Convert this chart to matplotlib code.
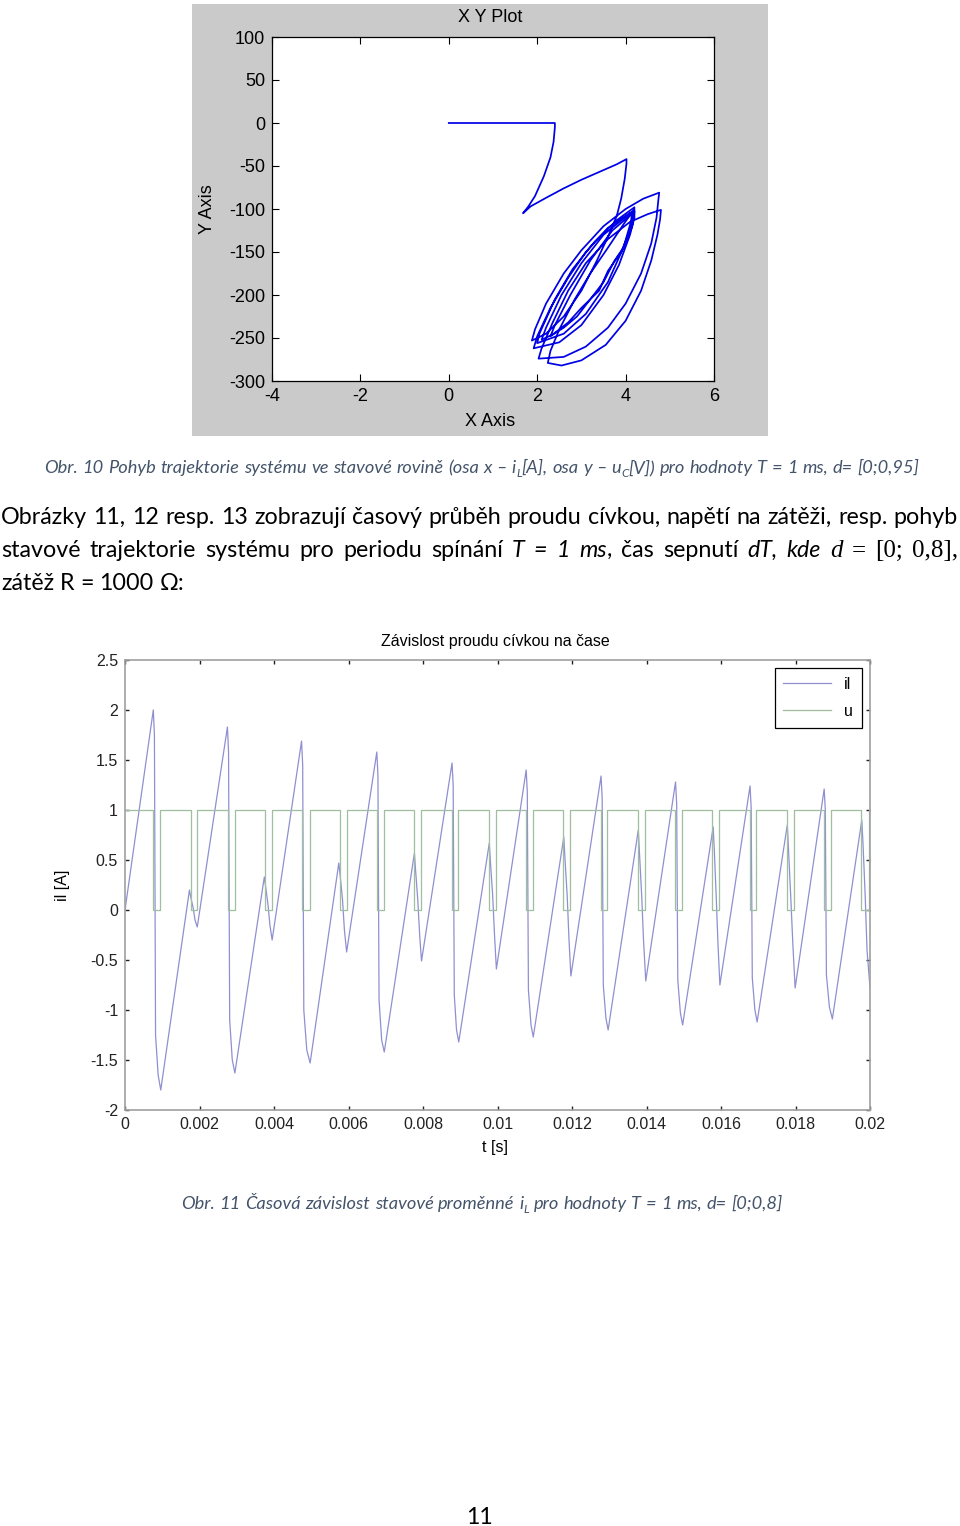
import matplotlib
matplotlib.use('Agg')
import matplotlib.pyplot as plt
from matplotlib.patches import Rectangle

plt.rcParams['font.family'] = ['Liberation Sans', 'DejaVu Sans']
plt.rcParams['axes.unicode_minus'] = False

# ---------------- data: Fig. 10 state trajectory (x = iL [A], y = uC [V]) ----------------
traj_x = [0.0, 2.4,
          2.4, 2.37, 2.3, 2.15, 1.95, 1.8, 1.68,
          1.85, 2.2, 2.6, 3.0, 3.4, 3.8, 4.02,
          4.02, 3.98, 3.9, 3.8, 3.62, 3.35, 3.0, 2.6, 2.2, 1.88,
          1.95, 2.2, 2.6, 3.0, 3.5, 4.0, 4.4, 4.76,
          4.74, 4.7, 4.58, 4.35, 4.0, 3.6, 3.1, 2.6, 2.03,
          2.1, 2.35, 2.7, 3.1, 3.6, 4.1, 4.5, 4.8,
          4.78, 4.72, 4.58, 4.35, 4.0, 3.55, 3.0, 2.55, 2.24,
          2.3, 2.5, 2.85, 3.2, 3.6, 3.95, 4.2,
          4.2, 4.1, 3.85, 3.5, 3.0, 2.5, 1.92,
          2.0, 2.3, 2.7, 3.1, 3.6, 4.15,
          4.12, 3.95, 3.6, 3.1, 2.6, 2.0,
          2.05, 2.4, 2.8, 3.3, 3.8, 4.2,
          4.1, 3.9, 3.6, 3.4, 3.0, 2.7, 2.5, 2.3,
          2.4, 2.75, 3.2, 3.7, 4.2,
          4.15, 3.95, 3.75, 3.5, 3.2, 2.9, 2.6, 2.35, 2.1,
          2.2, 2.55, 3.0, 3.5, 4.1]
traj_y = [0, 0,
          -5, -22, -40, -62, -85, -97, -105,
          -97, -87, -76, -66, -57, -48, -42,
          -47, -65, -88, -108, -130, -160, -195, -225, -245, -253,
          -240, -210, -175, -148, -120, -100, -88, -81,
          -90, -110, -140, -175, -210, -238, -260, -272, -274,
          -262, -232, -195, -163, -135, -115, -106, -101,
          -112, -130, -160, -195, -230, -258, -276, -282, -279,
          -265, -240, -205, -175, -145, -118, -100,
          -110, -130, -165, -200, -235, -255, -262,
          -248, -215, -180, -150, -122, -103,
          -115, -145, -185, -222, -245, -256,
          -245, -205, -170, -138, -113, -98,
          -125, -150, -172, -195, -215, -232, -240, -248,
          -235, -200, -160, -125, -103,
          -120, -145, -160, -185, -205, -225, -238, -246, -252,
          -238, -200, -163, -130, -105]
xy_xticks = [-4, -2, 0, 2, 4, 6]
xy_yticks = [-300, -250, -200, -150, -100, -50, 0, 50, 100]

# ---------------- data: Fig. 11 inductor current vs time ----------------
il_t_ms = [0.00, 0.76, 0.79, 0.82, 0.89, 0.96,
           1.73, 1.77, 1.83, 1.88, 1.94,
           2.75, 2.78, 2.81, 2.88, 2.95,
           3.74, 3.78, 3.84, 3.89, 3.95,
           4.74, 4.77, 4.80, 4.88, 4.97,
           5.74, 5.78, 5.84, 5.89, 5.95,
           6.76, 6.79, 6.82, 6.89, 6.96,
           7.77, 7.80, 7.86, 7.91, 7.96,
           8.78, 8.81, 8.84, 8.90, 8.96,
           9.78, 9.81, 9.87, 9.92, 9.97,
           10.77, 10.80, 10.83, 10.90, 10.96,
           11.78, 11.81, 11.87, 11.92, 11.97,
           12.78, 12.81, 12.84, 12.91, 12.97,
           13.78, 13.81, 13.87, 13.92, 13.98,
           14.78, 14.81, 14.84, 14.91, 14.97,
           15.79, 15.82, 15.87, 15.92, 15.97,
           16.78, 16.81, 16.84, 16.91, 16.97,
           17.78, 17.81, 17.87, 17.93, 17.99,
           18.77, 18.80, 18.83, 18.91, 18.99,
           19.78, 19.81, 19.87, 19.92, 20.00]
il_val = [0.00, 2.00, 1.75, -1.25, -1.65, -1.80,
          0.20, 0.12, 0.02, -0.10, -0.17,
          1.83, 1.58, -1.10, -1.50, -1.63,
          0.33, 0.22, 0.05, -0.15, -0.30,
          1.69, 1.45, -1.00, -1.40, -1.53,
          0.47, 0.33, 0.10, -0.20, -0.42,
          1.58, 1.35, -0.90, -1.30, -1.42,
          0.57, 0.40, 0.10, -0.25, -0.51,
          1.47, 1.25, -0.85, -1.20, -1.32,
          0.67, 0.48, 0.15, -0.25, -0.59,
          1.40, 1.18, -0.80, -1.15, -1.27,
          0.73, 0.52, 0.15, -0.30, -0.66,
          1.34, 1.12, -0.75, -1.08, -1.20,
          0.80, 0.58, 0.15, -0.30, -0.71,
          1.28, 1.06, -0.70, -1.03, -1.15,
          0.83, 0.60, 0.15, -0.35, -0.75,
          1.24, 1.02, -0.68, -1.00, -1.12,
          0.85, 0.62, 0.15, -0.35, -0.78,
          1.21, 1.00, -0.65, -0.97, -1.09,
          0.90, 0.68, 0.15, -0.40, -0.78]
u_off_start_ms = [0.76, 1.76, 2.76, 3.76, 4.76, 5.77, 6.77, 7.77, 8.77, 9.77,
                  10.77, 11.77, 12.77, 13.76, 14.77, 15.77, 16.77, 17.77, 18.77, 19.77]
u_off_end_ms = [0.95, 1.94, 2.95, 3.95, 4.96, 5.95, 6.95, 7.95, 8.95, 9.95,
                10.95, 11.95, 12.95, 13.97, 14.95, 15.95, 16.95, 17.95, 18.96, 19.96]
u_high, u_low = 1.0, 0.0
t_xticks = [0, 0.002, 0.004, 0.006, 0.008, 0.01, 0.012, 0.014, 0.016, 0.018, 0.02]
t_xticklabels = ['0', '0.002', '0.004', '0.006', '0.008', '0.01', '0.012', '0.014',
                 '0.016', '0.018', '0.02']
il_yticks = [-2, -1.5, -1, -0.5, 0, 0.5, 1, 1.5, 2, 2.5]
il_yticklabels = ['-2', '-1.5', '-1', '-0.5', '0', '0.5', '1', '1.5', '2', '2.5']

W, H = 960, 1526
fig = plt.figure(figsize=(W / 100, H / 100), dpi=100)
fig.patch.set_facecolor('white')


def ax_rect(l, t, r, b):
    return [l / W, 1 - b / H, (r - l) / W, (b - t) / H]


# ---------------- top chart (MATLAB XY graph) ----------------
fig.add_artist(Rectangle((192 / W, 1 - 436 / H), 576 / W, 432 / H,
                         transform=fig.transFigure, facecolor='#cacaca',
                         edgecolor='none', zorder=0))
ax1 = fig.add_axes(ax_rect(272, 37, 714, 381))
ax1.set_facecolor('white')
ax1.plot(traj_x, traj_y, color='#0000e6', lw=1.25)
ax1.set_xlim(-4, 6)
ax1.set_ylim(-300, 100)
ax1.set_xticks(xy_xticks)
ax1.set_yticks(xy_yticks)
ax1.tick_params(direction='in', top=True, right=True, length=5, width=0.8,
                labelsize=13, pad=5, colors='black')
for sp in ax1.spines.values():
    sp.set_color('black')
    sp.set_linewidth(0.9)
fig.text(490 / W, 1 - 17 / H, 'X Y Plot', fontsize=13, ha='center', va='center')
fig.text(490 / W, 1 - 421 / H, 'X Axis', fontsize=13, ha='center', va='center')
fig.text(207 / W, 1 - 209 / H, 'Y Axis', fontsize=13, ha='center', va='center',
         rotation=90)

# ---------------- bottom chart ----------------
ax2 = fig.add_axes(ax_rect(125, 660, 870, 1110))
u_t = [0.0]
u_v = [u_high]
for s, e in zip(u_off_start_ms, u_off_end_ms):
    u_t += [s, s, e, e]
    u_v += [u_high, u_low, u_low, u_high]
u_t.append(20.0)
u_v.append(u_high)
ax2.plot([t * 1e-3 for t in il_t_ms], il_val, color='#8f8fd2', lw=0.9, label='il')
ax2.plot([t * 1e-3 for t in u_t], u_v, color='#9fbf9f', lw=0.9, label='u')
ax2.set_xlim(0, 0.02)
ax2.set_ylim(-2, 2.5)
ax2.set_xticks(t_xticks)
ax2.set_xticklabels(t_xticklabels)
ax2.set_yticks(il_yticks)
ax2.set_yticklabels(il_yticklabels)
ax2.tick_params(direction='in', top=True, right=True, length=3, width=1.0,
                labelsize=11.5, pad=5, colors='#222222')
for sp in ax2.spines.values():
    sp.set_color('#a0a0a0')
    sp.set_linewidth(1.2)
ax2.set_xlabel('t [s]', fontsize=11.5)
ax2.xaxis.set_label_coords(0.497, -0.066)
ax2.set_ylabel('il [A]', fontsize=11.5)
ax2.yaxis.set_label_coords(-0.074, 0.5)
ax2.text(0.497, 1.042, 'Závislost proudu cívkou na čase', transform=ax2.transAxes,
         ha='center', va='center', fontsize=11.5)
leg = ax2.legend(loc='upper right', bbox_to_anchor=(0.989, 0.982), borderaxespad=0,
                 fontsize=11.5, frameon=True, fancybox=False, framealpha=1,
                 edgecolor='black', handlelength=3.0, handletextpad=0.8,
                 labelspacing=0.75, borderpad=0.55, markerfirst=True)
leg.get_frame().set_linewidth(0.9)

# ---------------- document text ----------------
renderer = fig.canvas.get_renderer()
BODY = ['Lato', 'DejaVu Sans']
STY = {
    'R': dict(family=BODY, style='normal', scale=1.0, dy=0.0),
    'I': dict(family=BODY, style='italic', scale=1.0, dy=0.0),
    'M': dict(family=['Liberation Serif', 'DejaVu Serif'], style='normal', scale=1.08, dy=0.0),
    'MI': dict(family=['Liberation Serif', 'DejaVu Serif'], style='italic', scale=1.08, dy=0.0),
    'SUB': dict(family=BODY, style='italic', scale=0.65, dy=0.22),
    'C': dict(family=BODY, style='italic', scale=1.0, dy=0.0),
}


def run_width(txt, st, size):
    s = STY[st]
    t = fig.text(0, 0, txt, fontsize=size * s['scale'], family=s['family'], style=s['style'])
    w = t.get_window_extent(renderer).width
    t.remove()
    return w


def word_width(word, size):
    return sum(run_width(txt, st, size) for txt, st in word)


def draw_word(word, x, y, size, color):
    for txt, st in word:
        s = STY[st]
        fig.text(x / W, 1 - (y + s['dy'] * size * 100 / 72) / H, txt,
                 fontsize=size * s['scale'], family=s['family'], style=s['style'],
                 color=color, ha='left', va='baseline')
        x += run_width(txt, st, size)


def natural_width(words, size, gap_em=0.25):
    return sum(word_width(w, size) for w in words) + gap_em * size * 100 / 72 * (len(words) - 1)


def layout(words, x0, y, size, color='black', x1=None, gap_em=0.25):
    ws = [word_width(w, size) for w in words]
    if x1 is not None and len(words) > 1:
        gap = (x1 - x0 - sum(ws)) / (len(words) - 1)
    else:
        gap = gap_em * size * 100 / 72
    x = x0
    for w, wd in zip(words, ws):
        draw_word(w, x, y, size, color)
        x += wd + gap


def simple(text, st):
    return [[(w, st)] for w in text.split(' ')]


CAP = '#44546A'

cap1 = (simple('Obr. 10 Pohyb trajektorie systému ve stavové rovině (osa x –', 'C')
        + [[('i', 'C'), ('L', 'SUB'), ('[A],', 'C')]]
        + simple('osa y –', 'C')
        + [[('u', 'C'), ('C', 'SUB'), ('[V])', 'C')]]
        + simple('pro hodnoty T = 1 ms, d= [0;0,95]', 'C'))
s0 = 12.0
cs1 = s0 * 872 / natural_width(cap1, s0)
layout(cap1, 44, 473, cs1, color=CAP)

line1 = simple('Obrázky 11, 12 resp. 13 zobrazují časový průběh proudu cívkou, napětí na zátěži, resp. pohyb', 'R')
line2 = (simple('stavové trajektorie systému pro periodu spínání', 'R')
         + simple('T = 1', 'I') + [[('ms', 'I'), (',', 'R')]]
         + simple('čas sepnutí', 'R') + simple('dT, kde', 'I')
         + [[('d', 'MI')], [('=', 'M')], [('[0;', 'M')], [('0,8],', 'M')]])
line3 = simple('zátěž R = 1000 Ω:', 'R')
b0 = 17.0
bs = min(b0 * 945 / natural_width(line1, b0), b0 * 945 / natural_width(line2, b0), 17.0)
layout(line1, 1, 524, bs, x1=958)
layout(line2, 1, 557, bs, x1=958)
layout(line3, 1, 590, bs)

cap2 = (simple('Obr. 11 Časová závislost stavové proměnné', 'C')
        + [[('i', 'C'), ('L', 'SUB')]]
        + simple('pro hodnoty T = 1 ms, d= [0;0,8]', 'C'))
cs2 = s0 * 598 / natural_width(cap2, s0)
layout(cap2, 181, 1209, cs2, color=CAP)

fig.text(480 / W, 1 - 1524 / H, '11', fontsize=bs, family=BODY, ha='center', va='baseline')

fig.savefig('out.png', dpi=100, facecolor='white')
